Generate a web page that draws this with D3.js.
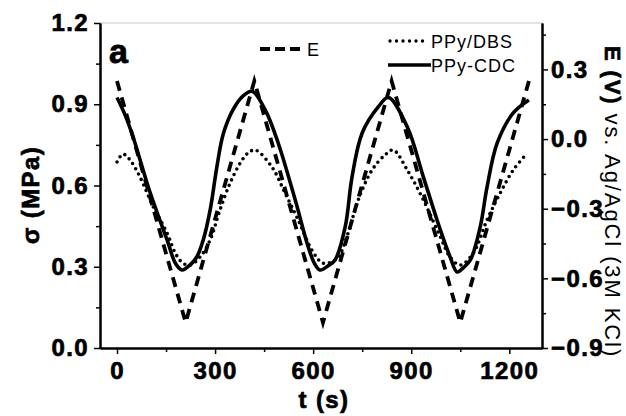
<!DOCTYPE html>
<html>
<head>
<meta charset="utf-8">
<script src="https://cdn.jsdelivr.net/npm/d3@7"></script>
<style>
  body { margin: 0; background: white; }
  svg { display: block; font-family: "Liberation Sans", Arial, sans-serif; }
</style>
</head>
<body>
<svg id="chart" width="626" height="416"></svg>
<script>
// potential E (V) - triangle wave
const eTime = [0, 210, 420, 630, 840, 1050, 1260];
const eVolt = [0.25, -0.79, 0.25, -0.79, 0.25, -0.79, 0.25];

// PPy-CDC stress (MPa)
const cdcTime = [0, 25, 49, 101, 153, 180, 199, 222, 244, 264, 285, 305, 325, 355, 385, 413,
    453, 493, 545, 585, 605, 621, 645, 667, 698, 719, 750, 799, 830,
    888, 937, 989, 1019, 1040, 1060, 1081, 1111, 1132, 1163, 1212, 1260];
const cdcStress = [0.925, 0.86, 0.78, 0.575, 0.40, 0.31, 0.288, 0.305, 0.336, 0.40, 0.51, 0.665, 0.79, 0.88, 0.93, 0.948,
    0.88, 0.757, 0.547, 0.373, 0.31, 0.288, 0.303, 0.325, 0.447, 0.632, 0.794, 0.89, 0.925,
    0.816, 0.632, 0.436, 0.336, 0.281, 0.297, 0.325, 0.447, 0.595, 0.757, 0.868, 0.916];

// PPy/DBS stress (MPa)
const dbsTime = [0, 18, 40, 70, 111, 153, 178, 200, 223, 254, 285, 315, 346, 377, 401, 423,
    474, 514, 554, 596, 628, 650, 677, 707, 738, 780, 820, 845,
    888, 937, 989, 1019, 1050, 1090, 1132, 1172, 1212, 1255];
const dbsStress = [0.687, 0.716, 0.694, 0.632, 0.521, 0.425, 0.351, 0.315, 0.306, 0.336, 0.399, 0.51, 0.609, 0.683, 0.72, 0.731,
    0.668, 0.572, 0.473, 0.362, 0.314, 0.315, 0.336, 0.425, 0.547, 0.657, 0.713, 0.731,
    0.657, 0.547, 0.41, 0.336, 0.306, 0.351, 0.473, 0.572, 0.657, 0.72];

const xTicks = [0, 300, 600, 900, 1200];
const xMinor = [150, 450, 750, 1050];
const yLeftTicks = [0, 0.3, 0.6, 0.9, 1.2];
const yLeftMinor = [0.15, 0.45, 0.75, 1.05];
const yRightTicks = [-0.9, -0.6, -0.3, 0, 0.3];
const yRightMinor = [-0.75, -0.45, -0.15, 0.15, 0.45];

const svg = d3.select("#chart");
const plot = { left: 100, right: 542, top: 23, bottom: 348 };

const x = d3.scaleLinear().domain([-52, 1300]).range([plot.left, plot.right]);
const yL = d3.scaleLinear().domain([0, 1.2]).range([plot.bottom, plot.top]);
const yR = d3.scaleLinear().domain([-0.9, 0.5]).range([plot.bottom, plot.top]);

const fmt = d3.format(".1f");
// heavy bold labels, a thin stroke thickens the glyphs like the scanned figure
const labelFont = (sel) => sel
    .style("font-family", "'Liberation Sans', Arial, sans-serif")
    .style("font-size", "24px")
    .style("font-weight", "bold")
    .style("letter-spacing", "1.4px")
    .style("fill", "black")
    .style("stroke", "black")
    .style("stroke-width", "0.7px");

// top frame line (thin grey)
svg.append("line")
    .attr("x1", plot.left).attr("x2", plot.right)
    .attr("y1", plot.top).attr("y2", plot.top)
    .attr("stroke", "#c8c8c8").attr("stroke-width", 1);

// axes
const styleAxis = (g) => {
    g.attr("font-family", null).attr("font-size", null);
    g.select(".domain").attr("stroke", "black").attr("stroke-width", 2);
    g.selectAll(".tick line").attr("stroke", "black").attr("stroke-width", 1.5);
    g.selectAll("text").call(labelFont);
};

svg.append("g")
    .attr("transform", `translate(0,${plot.bottom})`)
    .call(d3.axisBottom(x).tickValues(xTicks).tickFormat(d3.format("d")).tickSize(6).tickPadding(7).tickSizeOuter(0))
    .call(styleAxis)
    .call(g => g.selectAll("text").attr("dy", "0.76em"));
svg.append("g")
    .attr("transform", `translate(0,${plot.bottom})`)
    .call(d3.axisBottom(x).tickValues(xMinor).tickSize(4).tickFormat("").tickSizeOuter(0))
    .call(styleAxis);

svg.append("g")
    .attr("transform", `translate(${plot.left},0)`)
    .call(d3.axisLeft(yL).tickValues(yLeftTicks).tickFormat(fmt).tickSize(6).tickPadding(5).tickSizeOuter(0))
    .call(styleAxis);
svg.append("g")
    .attr("transform", `translate(${plot.left},0)`)
    .call(d3.axisLeft(yL).tickValues(yLeftMinor).tickFormat("").tickSize(4).tickSizeOuter(0))
    .call(styleAxis);

svg.append("g")
    .attr("transform", `translate(${plot.right},0)`)
    .call(d3.axisRight(yR).tickValues(yRightTicks).tickFormat(fmt).tickSize(6).tickPadding(3).tickSizeOuter(0))
    .call(styleAxis);
svg.append("g")
    .attr("transform", `translate(${plot.right},0)`)
    .call(d3.axisRight(yR).tickValues(yRightMinor).tickFormat("").tickSize(4).tickSizeOuter(0))
    .call(styleAxis);

// lines
const eData = eTime.map((t, i) => [t, eVolt[i]]);
const cdcData = cdcTime.map((t, i) => [t, cdcStress[i]]);
const dbsData = dbsTime.map((t, i) => [t, dbsStress[i]]);

const lineE = d3.line().x(d => x(d[0])).y(d => yR(d[1]));
const lineS = d3.line().x(d => x(d[0])).y(d => yL(d[1])).curve(d3.curveCatmullRom.alpha(0.5));

svg.append("path")
    .attr("d", lineS(dbsData))
    .attr("fill", "none").attr("stroke", "black")
    .attr("stroke-width", 3.6).attr("stroke-linecap", "round")
    .attr("stroke-dasharray", "0,6");

svg.append("path")
    .attr("d", lineE(eData))
    .attr("fill", "none").attr("stroke", "black")
    .attr("stroke-width", 3.8)
    .attr("stroke-dasharray", "10,7");

svg.append("path")
    .attr("d", lineS(cdcData))
    .attr("fill", "none").attr("stroke", "black")
    .attr("stroke-width", 3.6);

// legend
const legend = svg.append("g")
    .style("font-size", "18px")
    .style("letter-spacing", "1px");
legend.append("line")
    .attr("x1", 260).attr("x2", 305).attr("y1", 49).attr("y2", 49)
    .attr("stroke", "black").attr("stroke-width", 3.8).attr("stroke-dasharray", "10,5");
legend.append("text").attr("x", 307).attr("y", 56).text("E");

legend.append("line")
    .attr("x1", 390).attr("x2", 428).attr("y1", 41).attr("y2", 41)
    .attr("stroke", "black").attr("stroke-width", 3.4).attr("stroke-linecap", "round")
    .attr("stroke-dasharray", "0,6.5");
legend.append("text").attr("x", 431).attr("y", 48).text("PPy/DBS");

legend.append("line")
    .attr("x1", 388).attr("x2", 431).attr("y1", 65).attr("y2", 65)
    .attr("stroke", "black").attr("stroke-width", 3.6);
legend.append("text").attr("x", 431).attr("y", 72).text("PPy-CDC");

// panel letter
svg.append("text")
    .attr("x", 109).attr("y", 63)
    .style("font-size", "34px").style("font-weight", "bold")
    .style("stroke", "black").style("stroke-width", "0.8px")
    .text("a");

// axis titles
svg.append("text")
    .attr("x", 324).attr("y", 408)
    .attr("text-anchor", "middle")
    .call(labelFont)
    .text("t (s)");

svg.append("text")
    .attr("transform", "translate(39,195) rotate(-90)")
    .attr("text-anchor", "middle")
    .call(labelFont)
    .text("σ (MPa)");

const rLabel = svg.append("text")
    .attr("transform", "translate(605,202) rotate(90)")
    .attr("text-anchor", "middle")
    .style("font-size", "22px")
    .style("letter-spacing", "1.9px");
rLabel.append("tspan").style("font-weight", "bold")
    .style("stroke", "black").style("stroke-width", "0.7px").text("E (V)");
rLabel.append("tspan").text(" vs. Ag/AgCl (3M KCl)");
</script>
</body>
</html>
